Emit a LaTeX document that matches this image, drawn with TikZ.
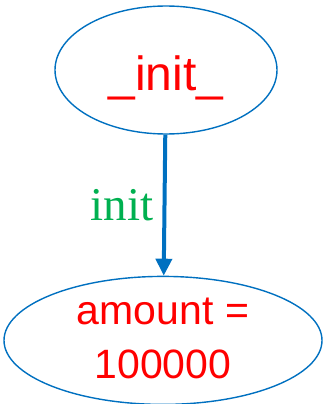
\documentclass[tikz,border=0pt]{standalone}
\usepackage{fontspec}
\setmainfont{Liberation Sans}
\newfontfamily\edgefont{Liberation Serif}
\usepackage{xcolor}
\usetikzlibrary{arrows.meta,positioning,shapes.geometric}
\definecolor{nodeblue}{RGB}{0,112,192}
\definecolor{txtred}{RGB}{255,0,0}
\definecolor{lblgreen}{RGB}{0,176,80}

\begin{document}
\begin{tikzpicture}[x=1pt, y=1pt,
 state/.style={draw=nodeblue, line width=1.4pt, ellipse, inner sep=0pt, text=txtred},
 trans/.style={draw=nodeblue, line width=4pt, -{Triangle[length=17pt,width=16pt]}},
 lbl/.style={text=lblgreen, inner sep=0pt, font=\edgefont\fontsize{47}{56}\selectfont}]
\useasboundingbox (0,0) rectangle (323,-404);
\node[state, minimum width=222pt, minimum height=128pt, text height=40pt, text depth=0pt,
 font=\fontsize{48}{58}\selectfont] (init) at (166,-70) {\_init\_};
\node[state, below=141pt of init, xshift=-3pt, minimum width=318pt, minimum height=128pt,
 align=center, text depth=4pt, font=\fontsize{41}{54}\selectfont] (amount) {amount =\\100000};
\draw[trans] (init) -- node[lbl, left=9pt] {init} (amount);
\end{tikzpicture}
\end{document}
